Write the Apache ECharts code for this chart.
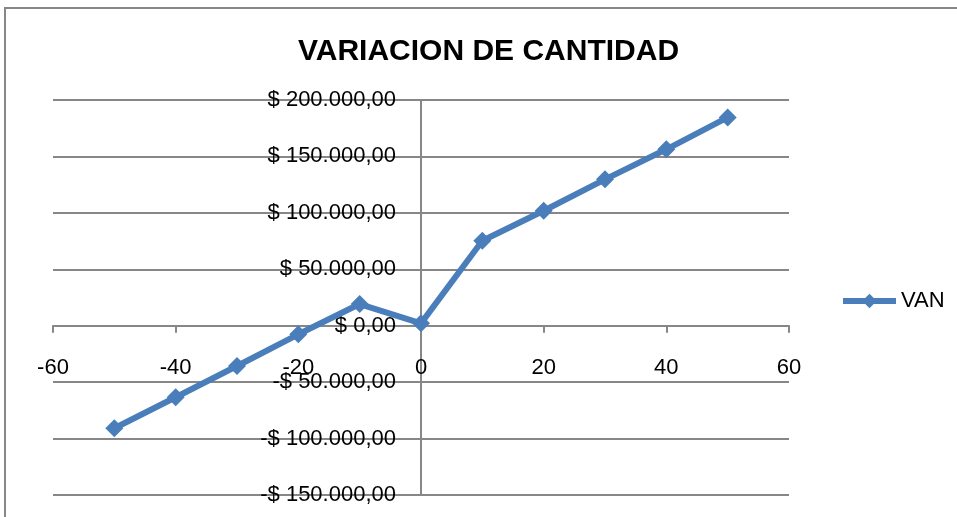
<!DOCTYPE html>
<html>
<head>
<meta charset="utf-8">
<title>VARIACION DE CANTIDAD</title>
<script src="https://cdn.jsdelivr.net/npm/echarts@6/dist/echarts.min.js"></script>
<style>
    html, body { margin: 0; padding: 0; background: #fff; }
    #chart { width: 957px; height: 517px; }
</style>
</head>
<body>
<div id="chart"></div>
<script>
// datos del grafico
var variacion = [-50, -40, -30, -20, -10, 0, 10, 20, 30, 40, 50]; // % de variacion de cantidad
var van = [-90900, -63400, -35700, -7600, 19200, 2100, 75300, 101900, 129700, 156300, 184600];
var serieNombre = 'VAN';
var titulo = 'VARIACION DE CANTIDAD';

var xMin = -60, xMax = 60, xPaso = 20;
var yMin = -150000, yMax = 200000, yPaso = 50000;

/**
 * formato moneda: $ 150.000,00
 */
function formatoPeso(v) {
    var neg = v < 0;
    var s = Math.abs(v).toFixed(0).replace(/\B(?=(\d{3})+(?!\d))/g, '.');
    return (neg ? '-$ ' : '$ ') + s + ',00';
}

var gris = '#878787';
var azul = '#4a7ebb';
var fuente = 'Liberation Sans, Arial, sans-serif';

// area del grafico (px)
var gLeft = 53, gRight = 168, gTop = 100, gBottom = 22;
var gW = 957 - gLeft - gRight, gH = 517 - gTop - gBottom;
// los ejes cruzan en cero
var offX = -(gH * (0 - yMin) / (yMax - yMin));
var offY = -(gW * (0 - xMin) / (xMax - xMin));

var myChart = echarts.init(document.getElementById('chart'));
var puntos = [];
for (var i = 0; i < variacion.length; i++) {
    puntos.push([variacion[i], van[i]]);
}

var option = {
    animation: false,
    graphic: [{
        type: 'rect',
        shape: { x: 5, y: 8, width: 1000, height: 600 },
        style: { fill: 'none', stroke: gris, lineWidth: 2 },
        z: -10
    }],
    title: {
        text: titulo,
        left: 293,
        top: 32,
        textStyle: { fontFamily: fuente, fontSize: 30, fontWeight: 'bold', color: '#000' }
    },
    legend: {
        data: [serieNombre],
        left: 835,
        top: 285,
        itemWidth: 53,
        itemHeight: 18,
        itemGap: 4,
        lineStyle: { width: 6 },
        textStyle: { fontFamily: fuente, fontSize: 22, color: '#000' }
    },
    grid: {
        left: gLeft,
        right: gRight,
        top: gTop,
        bottom: gBottom,
        containLabel: false,
        outerBoundsMode: 'none'
    },
    xAxis: {
        type: 'value',
        min: xMin,
        max: xMax,
        interval: xPaso,
        offset: offX,
        axisLine: { onZero: false, lineStyle: { color: gris, width: 2 } },
        axisTick: { show: true, length: 7, lineStyle: { color: gris, width: 2 } },
        axisLabel: { margin: 31, fontFamily: fuente, fontSize: 22, color: '#000' },
        splitLine: { show: false }
    },
    yAxis: {
        type: 'value',
        min: yMin,
        max: yMax,
        interval: yPaso,
        offset: offY,
        axisLine: { show: true, onZero: false, lineStyle: { color: gris, width: 2 } },
        axisTick: { show: true, length: 5, lineStyle: { color: gris, width: 2 } },
        axisLabel: {
            margin: 25,
            fontFamily: fuente,
            fontSize: 22,
            color: '#000',
            formatter: formatoPeso
        },
        splitLine: { show: true, lineStyle: { color: gris, width: 2 } }
    },
    series: [{
        name: serieNombre,
        type: 'line',
        data: puntos,
        symbol: 'diamond',
        symbolSize: 18,
        lineStyle: { color: azul, width: 6 },
        itemStyle: { color: azul },
        z: 5
    }]
};

myChart.setOption(option);
</script>
</body>
</html>
